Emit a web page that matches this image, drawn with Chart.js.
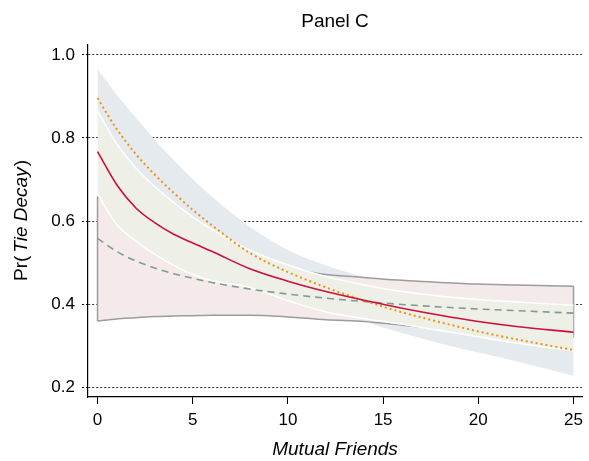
<!DOCTYPE html>
<html>
<head>
<meta charset="utf-8">
<script src="https://cdn.jsdelivr.net/npm/chart.js@4.4.1/dist/chart.umd.min.js"></script>
<style>
  html, body { margin: 0; padding: 0; background: #ffffff; }
  #wrap { width: 589px; height: 461px; position: relative; }
</style>
</head>
<body>
<div id="wrap"><canvas id="c" width="589" height="461"></canvas></div>
<script>
// ---- data ----
const titleText = "Panel C";
const xLabelText = "Mutual Friends";
const mutualFriends = [0, 1, 2, 3, 4, 5, 6, 8, 10, 12, 14, 16, 18, 20, 22, 25];
const xTickValues = [0, 5, 10, 15, 20, 25];
const yTickValues = [0.2, 0.4, 0.6, 0.8, 1.0];

// orange dotted model and its (blue) interval
const orangeFit  = [0.896, 0.822, 0.762, 0.712, 0.668, 0.627, 0.590, 0.523, 0.477, 0.440, 0.408, 0.380, 0.356, 0.334, 0.315, 0.289];
const blueUpper  = [0.966, 0.905, 0.850, 0.796, 0.747, 0.701, 0.659, 0.586, 0.530, 0.493, 0.465, 0.440, 0.418, 0.398, 0.380, 0.355];
const blueLower  = [0.820, 0.737, 0.676, 0.628, 0.590, 0.555, 0.523, 0.463, 0.420, 0.386, 0.358, 0.330, 0.305, 0.283, 0.262, 0.227];

// red solid model and its (green) interval
const redFit     = [0.767, 0.688, 0.632, 0.596, 0.568, 0.547, 0.527, 0.485, 0.455, 0.430, 0.409, 0.390, 0.373, 0.358, 0.346, 0.332];
const greenUpper = [0.865, 0.787, 0.728, 0.683, 0.645, 0.610, 0.580, 0.530, 0.494, 0.466, 0.446, 0.430, 0.419, 0.411, 0.405, 0.397];
const greenLower = [0.665, 0.592, 0.552, 0.520, 0.493, 0.471, 0.456, 0.440, 0.408, 0.381, 0.365, 0.351, 0.336, 0.321, 0.306, 0.287];

// gray dashed model and its (pink) interval
const grayFit    = [0.558, 0.527, 0.504, 0.487, 0.473, 0.462, 0.452, 0.436, 0.424, 0.414, 0.406, 0.399, 0.393, 0.388, 0.384, 0.378];
const pinkUpper  = [0.659, 0.630, 0.605, 0.582, 0.562, 0.545, 0.531, 0.506, 0.486, 0.471, 0.464, 0.457, 0.452, 0.448, 0.446, 0.443];
const pinkLower  = [0.359, 0.364, 0.367, 0.370, 0.371, 0.372, 0.373, 0.373, 0.369, 0.362, 0.358, 0.349, 0.340, 0.333, 0.327, 0.320];

// ---- helpers ----
const pts = arr => arr.map((v, i) => ({ x: mutualFriends[i], y: v }));
const last = mutualFriends.length - 1;
const edge = (i) => [{ x: mutualFriends[i], y: pinkLower[i] }, { x: mutualFriends[i], y: pinkUpper[i] }];

const FONT = "'Liberation Sans', Arial, Helvetica, sans-serif";

const base = { pointRadius: 0, pointHoverRadius: 0, cubicInterpolationMode: 'monotone', fill: false };

const datasets = [
  { ...base, label: 'blueUpper', data: pts(blueUpper), borderWidth: 0, borderColor: 'rgba(0,0,0,0)', backgroundColor: '#e5eaef', fill: '+1', order: 100 },
  { ...base, label: 'blueLower', data: pts(blueLower), borderWidth: 0, borderColor: 'rgba(0,0,0,0)', order: 99 },
  { ...base, label: 'pinkUpper', data: pts(pinkUpper), borderWidth: 1.5, borderColor: '#9c9c9c', backgroundColor: '#f4eaea', fill: '+1', order: 90 },
  { ...base, label: 'pinkLower', data: pts(pinkLower), borderWidth: 1.5, borderColor: '#9c9c9c', order: 89 },
  { ...base, label: 'pinkLeft', data: edge(0), borderWidth: 1.5, borderColor: '#9c9c9c', cubicInterpolationMode: 'default', order: 88 },
  { ...base, label: 'pinkRight', data: edge(last), borderWidth: 1.5, borderColor: '#9c9c9c', cubicInterpolationMode: 'default', order: 87 },
  { ...base, label: 'greenUpper', data: pts(greenUpper), borderWidth: 1.5, borderColor: '#ffffff', backgroundColor: '#eef0e8', fill: '+1', order: 80 },
  { ...base, label: 'greenLower', data: pts(greenLower), borderWidth: 1.5, borderColor: '#ffffff', order: 79 },
  { ...base, label: 'grayFit', data: pts(grayFit), borderWidth: 1.6, borderColor: '#7f9c90', borderDash: [7, 5], order: 3 },
  { ...base, label: 'orangeFit', data: pts(orangeFit), borderWidth: 2, borderColor: '#f0920c', borderDash: [2, 3], order: 2 },
  { ...base, label: 'redFit', data: pts(redFit), borderWidth: 1.6, borderColor: '#cc0f3c', order: 1 },
];

const textPlugin = {
  id: 'texts',
  afterDraw(chart) {
    const ctx = chart.ctx;
    const ca = chart.chartArea;
    const cx = (ca.left + ca.right) / 2;
    const cy = (ca.top + ca.bottom) / 2;
    ctx.save();
    ctx.fillStyle = '#000';
    ctx.textAlign = 'center';
    ctx.textBaseline = 'middle';
    ctx.font = `19px ${FONT}`;
    ctx.fillText(titleText, cx, 22);
    ctx.font = `italic 19px ${FONT}`;
    ctx.fillText(xLabelText, cx, 450);
    // y label: Pr( Tie Decay) with italic part
    const p1 = 'Pr(', p2 = 'Tie Decay', p3 = ')';
    ctx.font = `19px ${FONT}`;
    const w1 = ctx.measureText(p1).width, w3 = ctx.measureText(p3).width;
    ctx.font = `italic 19px ${FONT}`;
    const w2 = ctx.measureText(p2).width;
    const gap = 3;
    const total = w1 + gap + w2 + w3;
    ctx.translate(22, cy);
    ctx.rotate(-Math.PI / 2);
    ctx.textAlign = 'left';
    let x0 = -total / 2;
    ctx.font = `19px ${FONT}`;
    ctx.fillText(p1, x0, 0);
    ctx.font = `italic 19px ${FONT}`;
    ctx.fillText(p2, x0 + w1 + gap, 0);
    ctx.font = `19px ${FONT}`;
    ctx.fillText(p3, x0 + w1 + gap + w2 + 1, 0);
    ctx.restore();
  }
};

new Chart(document.getElementById('c'), {
  type: 'line',
  data: { datasets },
  options: {
    responsive: false,
    animation: false,
    devicePixelRatio: 1,
    layout: { padding: { top: 45, right: 2, left: 0, bottom: 0 } },
    plugins: {
      legend: { display: false },
      title: { display: false },
      tooltip: { enabled: false },
      filler: { drawTime: 'beforeDatasetDraw', propagate: false }
    },
    scales: {
      x: {
        type: 'linear',
        min: -0.5,
        max: 25.45,
        afterBuildTicks: s => { s.ticks = xTickValues.map(v => ({ value: v })); },
        afterFit: s => { s.height = 64; },
        ticks: { color: '#000', font: { family: FONT, size: 17 }, padding: 6, maxRotation: 0, autoSkip: false,
                 callback: v => String(v) },
        grid: { drawOnChartArea: false, drawTicks: true, tickLength: 7, tickColor: '#000', tickWidth: 1 },
        border: { display: true, color: '#000', width: 1.2 }
      },
      y: {
        type: 'linear',
        min: 0.176,
        max: 1.024,
        afterBuildTicks: s => { s.ticks = yTickValues.map(v => ({ value: v })); },
        afterFit: s => { s.width = 88; },
        ticks: { color: '#000', font: { family: FONT, size: 17 }, padding: 7, autoSkip: false,
                 callback: v => v.toFixed(1) },
        grid: { drawOnChartArea: true, drawTicks: true, tickLength: 6, color: '#333', lineWidth: 1,
                tickColor: '#000', tickBorderDash: [2, 2] },
        border: { display: true, color: '#000', width: 1.2, dash: [2, 2] }
      }
    }
  },
  plugins: [textPlugin]
});
</script>
</body>
</html>
